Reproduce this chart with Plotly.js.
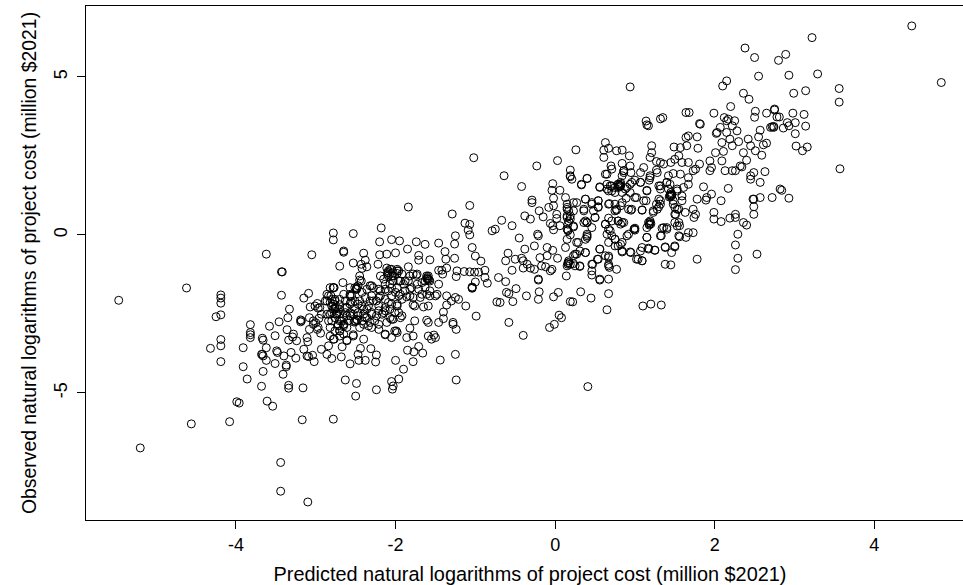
<!DOCTYPE html>
<html><head><meta charset="utf-8">
<script src="https://cdn.plot.ly/plotly-3.0.1.min.js"></script>
<style>html,body{margin:0;padding:0;background:#fff;overflow:hidden;width:963px;height:585px}</style>
</head><body><div id="chart"></div>
<script>
const xTickLabels=[-4,-2,0,2,4];
const yTickLabels=[-5,0,5];
const leftTail=[[-5.47,-2.07],[-4.62,-1.68],[-4.19,-1.9],[-4.19,-2],[-4.19,-2.16],[-4.19,-2.53],[-4.25,-2.59],[-4.19,-3.31],[-4.19,-3.51],[-4.32,-3.59],[-4.19,-4.01],[-3.82,-2.84],[-3.82,-3.09],[-3.82,-3.16],[-3.82,-3.25],[-3.91,-3.57],[-3.91,-4.17],[-3.86,-4.56],[-3.99,-5.28],[-3.96,-5.32],[-4.56,-5.98],[-4.08,-5.91],[-5.2,-6.74],[-3.44,-7.2],[-3.44,-8.11],[-3.1,-8.45],[-3.62,-0.61],[-3.43,-1.17],[-3.42,-1.17],[-3.05,-0.63],[-3.43,-1.91],[-3.09,-1.85],[-3.15,-2],[-3.33,-2.35],[-3.35,-2.62],[-3.46,-2.75],[-3.58,-2.89],[-3.51,-3.19],[-3.36,-3],[-3.67,-3.27],[-3.66,-3.33],[-3.19,-2.69],[-3.19,-2.75],[-3.18,-2.72],[-3.07,-2.28],[-2.98,-2.17],[-2.97,-2.32],[-3.08,-2.62],[-2.96,-2.64],[-3.03,-2.83],[-3.08,-2.99],[-3,-2.78],[-2.98,-2.99],[-2.94,-3.11],[-3.28,-3.14],[-3.29,-3.23],[-3.24,-3.35],[-3.11,-3.25],[-3.1,-3.38],[-3.34,-3.33],[-3.62,-3.57],[-3.49,-3.67],[-3.48,-3.72],[-3.68,-3.78],[-3.67,-3.78],[-3.66,-3.83],[-3.62,-3.97],[-3.51,-4.07],[-3.4,-3.83],[-3.31,-3.72],[-3.25,-3.9],[-3.15,-3.62],[-3.37,-4.12],[-3.37,-4.17],[-3.41,-4.41],[-3.66,-4.32],[-3.68,-4.79],[-3.34,-4.76],[-3.34,-4.85],[-3.16,-4.84],[-3.61,-5.26],[-3.54,-5.42],[-3.17,-5.85],[-2.78,-5.83],[-3.11,-3.83],[-3.09,-3.85],[-3.04,-3.81],[-3.02,-4.01],[-2.93,-3.62],[-2.84,-3.51],[-2.86,-3.78],[-2.77,-3.3]];
const denseCluster=[[-2.78,0.06],[-2.78,-0.16],[-2.53,0.04],[-2.65,-0.51],[-2.65,-0.55],[-2.4,-0.58],[-2.7,-0.99],[-2.53,-0.89],[-2.38,-0.8],[-2.43,-0.93],[-2.36,-1.01],[-2.42,-1.06],[-2.2,-0.63],[-2.22,-0.93],[-2.18,0.22],[-2.2,-0.22],[-2.05,-0.15],[-1.95,-0.19],[-2.11,-0.61],[-2,-0.57],[-2.66,-1.51],[-2.78,-1.67],[-2.49,-1.67],[-2.49,-1.72],[-2.49,-1.7],[-2.45,-1.43],[-2.65,-1.88],[-2.76,-2.04],[-2.57,-1.93],[-2.56,-2.11],[-2.7,-2.21],[-2.8,-2.25],[-2.78,-2.35],[-2.74,-2.3],[-2.61,-2.3],[-2.51,-2.35],[-2.42,-2.25],[-2.32,-1.61],[-2.28,-1.67],[-2.19,-1.77],[-2.3,-1.93],[-2.19,-1.93],[-2.13,-2.04],[-2.21,-2.25],[-2.09,-2.14],[-2.07,-2.35],[-1.98,-2.19],[-1.96,-1.93],[-2.05,-1.93],[-2.13,-1.56],[-2.03,-1.46],[-1.96,-1.14],[-2.09,-1.3],[-2.19,-1.3],[-1.96,-2.46],[-1.92,-2.56],[-2.07,-2.62],[-2.01,-2.46],[-2.13,-2.4],[-2.3,-2.46],[-2.36,-2.62],[-2.4,-2.51],[-2.47,-2.46],[-2.57,-2.56],[-2.65,-2.62],[-2.76,-2.62],[-2.82,-2.51],[-2.72,-2.83],[-2.65,-2.83],[-2.59,-2.72],[-2.51,-2.72],[-2.5,-2.74],[-2.48,-2.7],[-2.52,-2.76],[-2.4,-2.83],[-2.32,-2.77],[-2.21,-2.83],[-2.11,-2.77],[-2.01,-3.04],[-1.98,-3.09],[-2.05,-3.25],[-2.13,-3.16],[-2.21,-2.99],[-2.3,-2.93],[-2.4,-3.3],[-2.53,-3.16],[-2.61,-3.33],[-2.7,-3.04],[-2.7,-3.2],[-2.78,-3.3],[-2.24,-2.56],[-2.15,-2.46],[-1.94,-2.62],[-2.03,-2.67],[-2.36,-2.35],[-2.45,-2.09],[-2.38,-1.98],[-2.32,-2.09],[-2.24,-2.09],[-2.57,-2.46],[-2.7,-2.51],[-2.63,-2.46],[-2.74,-2.46],[-2.74,-2.5],[-2.82,-2.93],[-2.76,-3.04],[-2.82,-3.2],[-2.84,-1.93],[-2.8,-2.04],[-2.86,-2.09],[-2.78,-2.19],[-2.76,-2.35],[-2.8,-2.46],[-2.74,-2.51],[-2.84,-2.72],[-2.7,-2.72],[-2.65,-2.83],[-2.7,-3.04],[-2.61,-2.93],[-2.65,-3.14],[-2.61,-3.35],[-2.53,-3.2],[-2.78,-1.67],[-2.57,-1.67],[-2.45,-1.3],[-2.43,-1.46],[-2.55,-1.93],[-2.47,-2.19],[-2.1,-1.2],[-2.1,-1.25],[-2.03,-1.2],[-1.98,-1.22],[-2.31,-3.6],[-2.44,-3.59],[-2.47,-3.78],[-2.46,-3.97],[-2.38,-3.97],[-2.68,-3.86],[-2.67,-3.54],[-2.8,-3.91],[-2.25,-4.02],[-2.24,-3.8],[-2.57,-4.08],[-2.63,-4.59],[-2.49,-4.7],[-2.5,-5.1],[-2.24,-4.9],[-2.05,-4.64],[-2.03,-4.78],[-2.04,-4.88],[-1.96,-4.56],[-1.9,-4.25],[-2,-3.97],[-1.78,-4.01]];
const denseCore=[[-2.82,-1.67],[-2.77,-1.67],[-2.86,-1.88],[-2.81,-1.93],[-2.88,-2.09],[-2.82,-2.14],[-2.76,-2.09],[-2.7,-2.04],[-2.63,-2.09],[-2.76,-2.3],[-2.7,-2.35],[-2.63,-2.3],[-2.57,-2.19],[-2.51,-2.09],[-2.57,-1.88],[-2.51,-1.67],[-2.47,-1.61],[-2.49,-1.72],[-2.42,-1.82],[-2.36,-1.72],[-2.3,-1.61],[-2.21,-1.72],[-2.13,-1.72],[-2.07,-1.56],[-2.15,-1.4],[-2.09,-1.19],[-2.05,-1.09],[-1.98,-1.14],[-2.07,-1.09],[-2.03,-1.3],[-1.96,-1.46],[-1.9,-1.56],[-1.82,-1.3],[-1.73,-1.24],[-1.61,-1.3],[-1.6,-1.4],[-1.63,-1.46],[-1.57,-1.46],[-2.21,-1.98],[-2.28,-2.09],[-2.34,-2.25],[-2.4,-2.35],[-2.47,-2.56],[-2.49,-2.67],[-2.42,-2.72],[-2.38,-2.62],[-2.3,-2.51],[-2.21,-2.4],[-2.13,-2.3],[-2.05,-2.19],[-1.98,-2.25],[-2.53,-2.51],[-2.61,-2.56],[-2.68,-2.72],[-2.65,-2.88],[-2.72,-2.88],[-2.8,-2.72],[-2.86,-2.51],[-2.95,-2.3],[-2.93,-2.51],[-3.01,-2.25],[-3.03,-2.72],[-2.97,-2.93],[-2.45,-2.93],[-2.34,-2.88],[-2.26,-2.72],[-2.17,-2.51],[-2.05,-2.67],[-1.99,-3.04],[-2.13,-3.14]];
const midLeft=[[-1.84,0.88],[-1.07,0.93],[-1.29,0.66],[-1.13,0.37],[-1.07,0.33],[-1.09,0.15],[-1.07,0],[-1.25,-0.03],[-1.26,-0.29],[-1.04,-0.4],[-1,-0.67],[-0.93,-0.83],[-1.46,-0.26],[-1.63,-0.3],[-1.74,-0.22],[-1.85,-0.45],[-1.71,-0.65],[-1.71,-0.8],[-1.57,-0.79],[-1.38,-0.53],[-1.37,-0.77],[-1.26,-0.74],[-1.46,-1.12],[-1.42,-1.12],[-1.36,-1.05],[-1.23,-1.14],[-1.14,-1.16],[-1.07,-1.17],[-1.01,-1.18],[-0.96,-1.18],[-0.88,-1.12],[-1.24,-1.32],[-0.88,-1.35],[-0.85,-1.53],[-1,-1.49],[-1.04,-1.65],[-1.04,-1.69],[-1.04,-1.67],[-1.46,-1.56],[-1.41,-1.24],[-1.59,-1.3],[-1.59,-1.4],[-1.61,-1.38],[-1.6,-1.35],[-1.58,-1.43],[-1.78,-1.24],[-1.74,-1.28],[-1.98,-1.09],[-2.09,-1.14],[-2.05,-1.3],[-2.11,-1.05],[-1.92,-1.24],[-1.84,-1.01],[-1.88,-1.46],[-1.82,-1.72],[-1.71,-1.72],[-1.67,-1.88],[-1.57,-1.77],[-1.48,-1.88],[-1.36,-1.93],[-1.25,-1.98],[-1.21,-2.04],[-1.3,-2.09],[-1.36,-2.22],[-1.4,-2.44],[-1.12,-2.25],[-0.99,-2.57],[-1.28,-2.77],[-1.28,-2.83],[-1.24,-2.99],[-1.4,-2.65],[-1.46,-2.77],[-1.61,-2.7],[-1.59,-2.77],[-1.65,-2.28],[-1.59,-2.25],[-1.76,-2.25],[-1.78,-2.21],[-1.52,-3.17],[-1.59,-3.2],[-1.55,-3.3],[-1.5,-3.25],[-1.78,-3.2],[-1.82,-2.95],[-1.86,-3.25],[-1.76,-2.72],[-1.71,-3.53],[-1.85,-3.65],[-1.77,-3.7],[-1.66,-3.74],[-1.44,-3.96],[-1.25,-3.78],[-1.24,-4.59],[-1.88,-1.77],[-1.78,-1.98],[-1.73,-1.56],[-1.67,-1.51],[-1.8,-1.67],[-1.63,-1.67],[-1.57,-1.93],[-1.5,-1.93],[-1.69,-1.98],[-1.61,-1.88],[-1.82,-1.93],[-1.92,-2.04],[-1.86,-1.96],[-1.94,-1.88],[-1.84,-1.46],[-1.94,-1.46],[-1.98,-1.67],[-2.05,-1.67],[-2.09,-1.77],[-2,-1.82]];
const midCentre=[[-1.02,2.44],[-0.64,1.87],[-0.23,2.18],[-0.42,1.53],[-0.29,1.1],[-0.29,1.02],[-0.03,1.62],[-0.04,1.41],[0.06,1.41],[-0.02,1.16],[-0.08,0.87],[-0.02,0.92],[-0.2,0.76],[-0.38,0.6],[-0.31,0.5],[-0.15,0.57],[0.02,0.65],[0.02,0.52],[0.15,0.81],[0.15,0.55],[-0.06,0.36],[-0.03,0.29],[0.06,0.29],[0.16,0.34],[0.16,0.13],[-0.02,0.16],[-0.22,0.02],[-0.21,-0.03],[-0.45,-0.1],[-0.54,0.29],[-0.67,0.46],[-0.75,0.18],[-0.79,0.13],[-0.26,-0.35],[-0.38,-0.45],[-0.59,-0.58],[-0.62,-0.82],[-0.5,-0.77],[-0.42,-0.74],[-0.4,-0.82],[-0.35,-0.93],[-0.4,-1.05],[-0.31,-1.05],[-0.26,-1.09],[-0.17,-0.98],[-0.12,-1.01],[-0.19,-0.72],[-0.1,-0.66],[-0.1,-0.4],[-0.03,-0.49],[0.03,-0.74],[-0.04,-1.09],[-0.06,-1.14],[0.16,-0.93],[0.16,-0.88],[0.14,-1.3],[-0.71,-1.35],[-0.62,-1.48],[-0.54,-1.12],[-0.21,-1.4],[-0.21,-1.43],[-0.49,-1.7],[-0.61,-1.82],[-0.58,-1.86],[-0.53,-2.11],[-0.69,-2.14],[-0.73,-2.12],[-0.36,-1.93],[-0.2,-1.8],[-0.21,-2.04],[-0.02,-1.96],[0.04,-1.82],[0.19,-2.11],[-0.58,-2.77],[-0.4,-3.18],[-0.07,-2.93],[-0.01,-2.83],[0.05,-2.54],[0.08,-2.62],[0.26,2.69],[0.03,2.35],[0.19,2.05],[0.19,1.84],[0.4,1.78],[0.33,1.58],[0.19,0],[0.23,0.25],[0.19,0.5],[0.23,0.76],[0.27,1.02],[0.36,0.81],[0.38,1.13],[0.46,1.02],[0.54,1.08],[0.54,0.89],[0.48,0.76],[0.15,0.87],[0.15,0.6],[0.38,0.44],[0.4,0.39],[0.5,0.55],[0.46,0.23],[0.29,-0.24],[0.4,-0.08],[0.4,-0.03],[0.38,-0.56],[0.27,-0.61],[0.23,-0.66],[0.31,-1],[0.47,-0.93],[0.46,-1.14],[0.46,-1.27],[0.56,-1.43],[0.56,-1.4],[0.32,-1.8],[0.45,-2],[0.67,-1.86],[0.65,-2.37],[0.22,-2.12],[0.17,-0.88],[0.19,-0.93],[0.15,-0.98],[0.23,-0.91],[1.1,-2.25],[1.2,-2.19],[1.33,-2.22],[0.41,-4.8]];
const centreCore=[[0.82,1.6],[0.82,1.55],[0.81,1.52],[0.79,1.6],[0.69,1.55],[0.65,1.45],[0.71,1.39],[0.75,1.5],[0.9,1.5],[0.96,1.66],[1.07,1.66],[1,1.18],[1.15,1.39],[1.11,1.08],[0.92,0.81],[0.96,0.81],[1.09,0.78],[0.84,1.02],[0.77,0.81],[0.75,0.76],[0.67,0.97],[1.32,1.55],[1.4,1.66],[1.46,1.29],[1.44,1.23],[1.45,1.34],[1.42,1.45],[1.53,1.39],[1.59,1.23],[1.48,0.97],[1.32,0.97],[1.3,1.13],[1.28,0.81],[1.23,0.71],[1.53,0.81],[1.51,0.65],[1.55,0.39],[1.53,0.28],[1.19,0.44],[1.18,0.34],[1.17,0.39],[0.99,0.18],[1,0.15],[0.92,0.02],[0.86,0.39],[0.79,0.44],[0.71,0.44],[0.63,0.34],[0.69,0.13],[0.65,0.02],[0.75,-0.14],[0.84,-0.24],[0.75,-0.35],[0.84,-0.51],[0.94,-0.54],[1.07,-0.51],[1.17,-0.42],[1.25,-0.48],[1.09,-0.82],[1.02,-0.77],[1.38,-0.4],[1.5,-0.35],[1.36,0.23],[1.4,0.18],[1.32,-0.03],[1.15,-0.08],[1.55,-0.03],[1.67,0.07],[0.15,0.97],[0.17,0.76],[0.15,0.18],[0.16,0.15],[0.36,0.39],[0.4,0.39],[0.4,0.02],[0.38,-0.14],[0.27,-0.24],[0.15,-0.14],[0.36,0.76],[0.46,0.97],[0.54,1.08],[0.54,0.87],[0.5,0.55],[0.23,1.02],[0.38,1.13],[0.13,1.18],[0.19,0.6],[0.17,0.44],[0.23,0.28],[0.31,-0.51],[0.38,-0.56],[0.25,-0.61],[0.13,-0.4],[0.17,-0.82],[0.25,-0.98],[0.31,-0.98],[0.46,-0.93],[0.54,-0.77],[0.56,-0.45],[0.67,-0.67],[0.67,-0.93],[0.19,1.87],[0.21,1.76],[0.33,1.6],[0.4,1.79],[0.56,1.52],[0.63,1.92],[0.86,2.03],[1.07,1.97],[1.19,1.87],[1.28,1.97],[1.42,1.87],[1.57,1.92]];
const upperBand=[[0.94,4.68],[1.14,3.6],[1.15,3.48],[1.32,3.67],[0.63,2.92],[0.67,2.74],[0.61,2.68],[0.61,2.45],[0.77,2.66],[0.84,2.68],[0.93,2.5],[0.7,2.18],[0.71,2.08],[0.65,1.92],[0.84,2.26],[0.86,2.03],[0.94,2.18],[0.95,1.97],[0.86,1.97],[0.84,1.87],[1.21,2.82],[1.21,2.6],[1.19,2.45],[1.11,2.13],[1.27,2.32],[1.32,2.29],[1.36,2.24],[1.45,2.29],[1.5,2.39],[1.49,2.78],[1.57,2.76],[1.55,2.5],[1.65,2.82],[1.67,3.13],[1.64,3.08],[1.78,3.1],[1.79,2.74],[1.59,2.29],[1.67,2.29],[1.81,2.24],[1.76,2.08],[1.73,2.03],[1.48,1.94],[1.27,2.05],[1.19,1.81],[1.18,1.73],[1,1.73],[1.07,1.66],[0.56,1.5],[0.65,1.6],[0.67,1.39],[0.71,1.55],[0.79,1.6],[0.82,1.55],[0.82,1.66],[0.79,1.5],[0.8,1.57],[0.88,1.45],[0.94,1.6],[0.75,1.34],[0.84,1.34],[0.89,1.16],[0.94,1.34],[1.02,1.18],[1.15,1.41],[1.14,1.08],[1.09,0.79],[0.95,0.78],[0.82,0.92],[0.75,0.97],[0.77,0.78],[0.68,0.99],[1.3,1.55],[1.32,1.45],[1.27,0.97],[1.3,0.89],[1.32,1.08],[1.23,0.76],[1.4,1.66],[1.44,1.6],[1.44,1.27],[1.46,1.23],[1.43,1.2],[1.45,1.25],[1.53,1.45],[1.59,1.08],[1.48,1.08],[1.5,0.87],[1.55,0.81],[1.5,0.65],[1.63,0.71],[1.73,0.81],[1.76,0.65],[1.74,0.55],[1.61,1.5],[1.67,1.81],[1.67,1.6],[1.78,1.13],[1.86,1.52],[1.9,1.18],[1.89,1.1],[1.96,1.29],[2.08,1.08],[2.17,1.47],[1.99,0.71],[1.99,0.5],[2.08,0.42],[2.19,0.53],[2.26,0.65],[2.26,0.55],[2.36,0.39],[2.4,0.31],[2.49,0.65],[2.49,0.89],[2.49,1.13],[2.57,1.18],[2.72,1.18],[2.57,1.66],[2.45,1.76],[2.45,1.87],[2.49,1.97],[2.63,2],[2.82,1.45],[2.29,0.02],[2.26,-0.32],[2.29,-0.74],[2.26,-1.1],[2.53,-0.61],[1.78,-0.77]];
const lowerBand=[[0.67,0.53],[0.63,0.34],[0.79,0.44],[0.84,0.39],[0.82,0.34],[0.67,0.18],[0.71,-0.03],[0.75,-0.14],[0.82,-0.3],[0.9,-0.03],[0.99,0.18],[1,0.21],[1.15,-0.08],[1.19,0.39],[1.18,0.31],[1.2,0.35],[1.15,0.23],[1.34,0.21],[1.4,0.23],[1.33,-0.03],[1.38,-0.38],[1.5,-0.38],[1.46,-0.56],[1.56,-0.06],[1.64,-0.08],[1.73,0.07],[1.56,0.29],[1.5,0.39],[1.25,-0.49],[1.17,-0.45],[1.09,-0.4],[1.04,-0.77],[1.09,-0.82],[1.38,-0.93],[1.45,-0.95],[0.95,-0.56],[0.84,-0.54],[0.79,-0.35],[0.67,-0.24],[0.56,-0.45],[0.53,-0.77],[0.67,-0.72],[0.63,-0.66],[0.67,-0.98],[0.68,-1.03],[0.77,-1.09],[0.67,-1.4]];
const upperRight=[[2.03,3.24],[2.02,3.21],[2.07,3.4],[2.15,3.24],[2.28,3.29],[2.42,3.03],[2.55,3.1],[2.57,3.31],[2.72,3.42],[2.74,3.43],[2.19,3.03],[2.09,2.92],[2.01,2.6],[2.22,2.82],[2.3,2.95],[2.45,2.82],[2.61,2.85],[2.65,2.9],[2.51,2.66],[2.59,2.52],[2.11,2.64],[1.94,2.34],[2.09,2.34],[1.96,2.13],[1.94,2.03],[2.13,2.03],[2.22,2.03],[2.26,2.03],[2.32,2.18],[2.34,2.15],[2.4,2.36],[2.36,2.6],[2.15,3.61],[2.22,3.45],[1.82,3.5],[1.17,3.45],[1.35,3.71],[1.64,3.87],[1.68,3.87],[1.81,3.52],[4.47,6.61],[4.84,4.82],[3.22,6.24],[2.38,5.91],[2.5,5.61],[2.89,5.71],[2.8,5.52],[2.55,5.02],[2.93,5.05],[3.29,5.09],[2.15,4.87],[2.1,4.71],[2.36,4.48],[2.43,4.29],[2.99,4.48],[3.14,4.56],[3.56,4.63],[3.56,4.2],[3.57,2.09],[2.2,4.06],[1.99,3.85],[2.51,3.91],[2.5,3.72],[2.65,3.85],[2.75,3.98],[2.75,3.95],[2.78,3.73],[2.81,3.73],[2.98,3.85],[3.12,3.81],[3.14,3.44],[3.01,3.55],[2.91,3.55],[2.93,3.45],[2.86,3.38],[2.74,3.4],[2.7,3.4],[3.01,3.2],[2.12,3.71],[2.17,3.66],[2.25,3.61],[3.02,2.81],[3.1,2.66],[3.16,2.78],[2.84,1.41],[2.93,1.16],[2.48,1.13]];
const allPoints=[...leftTail,...denseCluster,...denseCore,...midLeft,...midCentre,...centreCore,...upperBand,...lowerBand,...upperRight];
const predicted=allPoints.map(p=>p[0]);
const observed=allPoints.map(p=>p[1]);
const fam='"Liberation Sans",Arial,sans-serif';
const tickFont={family:fam,size:18,color:'#000'};
const axisBase={showgrid:false,zeroline:false,showline:true,mirror:true,linecolor:'#000',linewidth:1,ticks:'outside',ticklen:8,tickwidth:1,tickcolor:'#000',tickfont:tickFont,automargin:false};
Plotly.newPlot('chart',[{type:'scatter',mode:'markers',x:predicted,y:observed,
  marker:{symbol:'circle-open',size:8,color:'#000',line:{width:1,color:'#000'}},hoverinfo:'skip'}],
{width:990,height:585,margin:{l:86,r:16,t:6,b:65},paper_bgcolor:'#fff',plot_bgcolor:'#fff',showlegend:false,font:tickFont,
 xaxis:{...axisBase,range:[-5.88,5.25],tickmode:'array',tickvals:xTickLabels,ticktext:xTickLabels.map(v=>v<0?'-'+Math.abs(v):String(v)),ticklabelstandoff:0,
   title:{text:'Predicted natural logarithms of project cost (million $2021)',font:{family:fam,size:19.9,color:'#000'},standoff:16}},
 yaxis:{...axisBase,range:[-9.02,7.24],tickmode:'array',tickvals:yTickLabels,ticktext:yTickLabels.map(v=>v<0?'-'+Math.abs(v):String(v)),tickangle:-90,ticklabelstandoff:3,
   title:{text:'Observed natural logarithms of project cost (million $2021)',font:{family:fam,size:19.4,color:'#000'},standoff:9}}},
{displayModeBar:false,staticPlot:true});
</script></body></html>
